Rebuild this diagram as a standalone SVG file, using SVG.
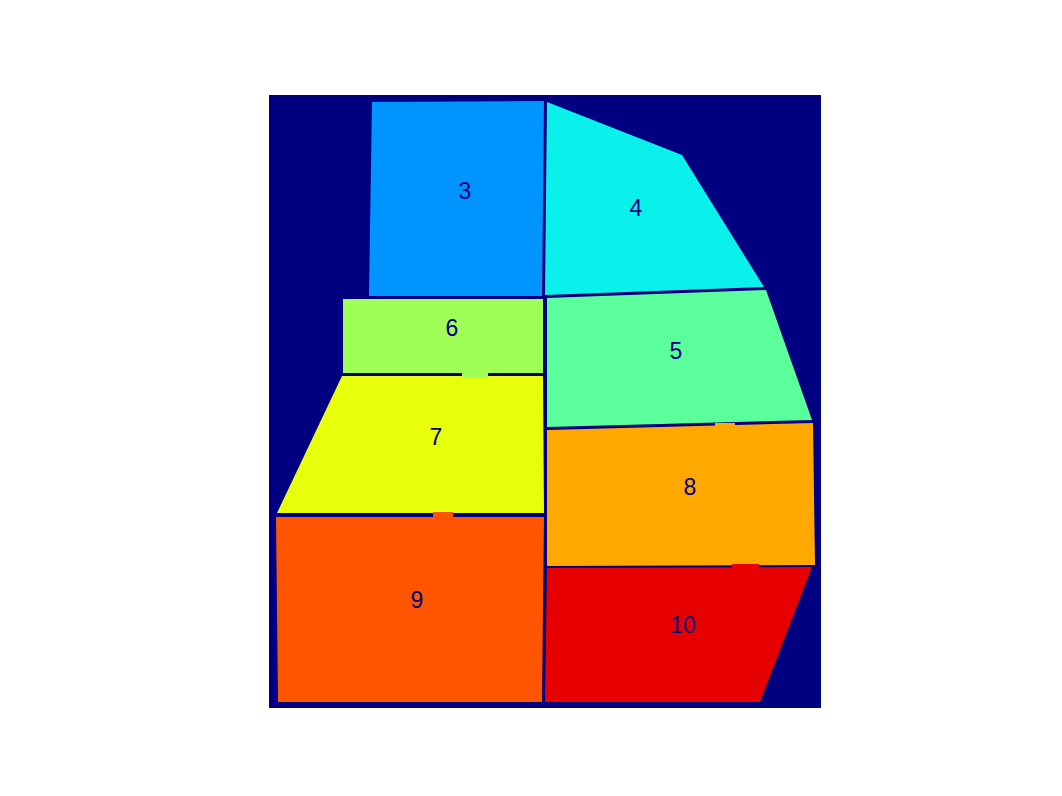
<svg xmlns="http://www.w3.org/2000/svg" width="1062" height="796" viewBox="0 0 1062 796">
<style>
.lbl{font-family:"Liberation Sans",Arial,sans-serif;font-size:23px;font-weight:300;fill:#000080;text-anchor:middle}
</style>
<rect x="0" y="0" width="1062" height="796" fill="#ffffff"/>
<rect x="269" y="95" width="552" height="613" fill="#000080"/>
<g id="region3">
<polygon points="372,102 544,101 542,296 369,296" fill="#0094FF"/>
<text class="lbl" x="465" y="199">3</text>
</g>
<g id="region4">
<polygon points="547,102 682,155 764,287 545,295" fill="#0AF0EA"/>
<text class="lbl" x="636" y="216">4</text>
</g>
<g id="region5">
<polygon points="547,298 766,290 812,420 547,427" fill="#5AFF9C"/>
<text class="lbl" x="676" y="359">5</text>
</g>
<g id="region6">
<polygon points="343,299 543,299 543,373 343,373" fill="#A0FF56"/>
<text class="lbl" x="452" y="336">6</text>
</g>
<g id="region7">
<polygon points="342,376 543,376 544,513 277,513" fill="#E8FF0B"/>
<text class="lbl" x="436" y="445">7</text>
</g>
<g id="region8">
<polygon points="547,430 813,423 815,565 547,566" fill="#FFA800"/>
<text class="lbl" x="690" y="495">8</text>
</g>
<g id="region9">
<polygon points="276,517 544,517 542,702 278,702" fill="#FF5500"/>
<text class="lbl" x="417" y="608">9</text>
</g>
<g id="region10">
<polygon points="547,568 812,567 760,702 545,702" fill="#E60000"/>
<text class="lbl" x="683" y="633">10</text>
</g>
<g id="gaps">
<rect x="462" y="372" width="26" height="5" fill="#A0FF56"/>
<rect x="433" y="512" width="20" height="6" fill="#FF5500"/>
<rect x="715" y="423" width="20" height="8" fill="#FFA800"/>
<rect x="732" y="564" width="27" height="5" fill="#E60000"/>
</g>
</svg>
